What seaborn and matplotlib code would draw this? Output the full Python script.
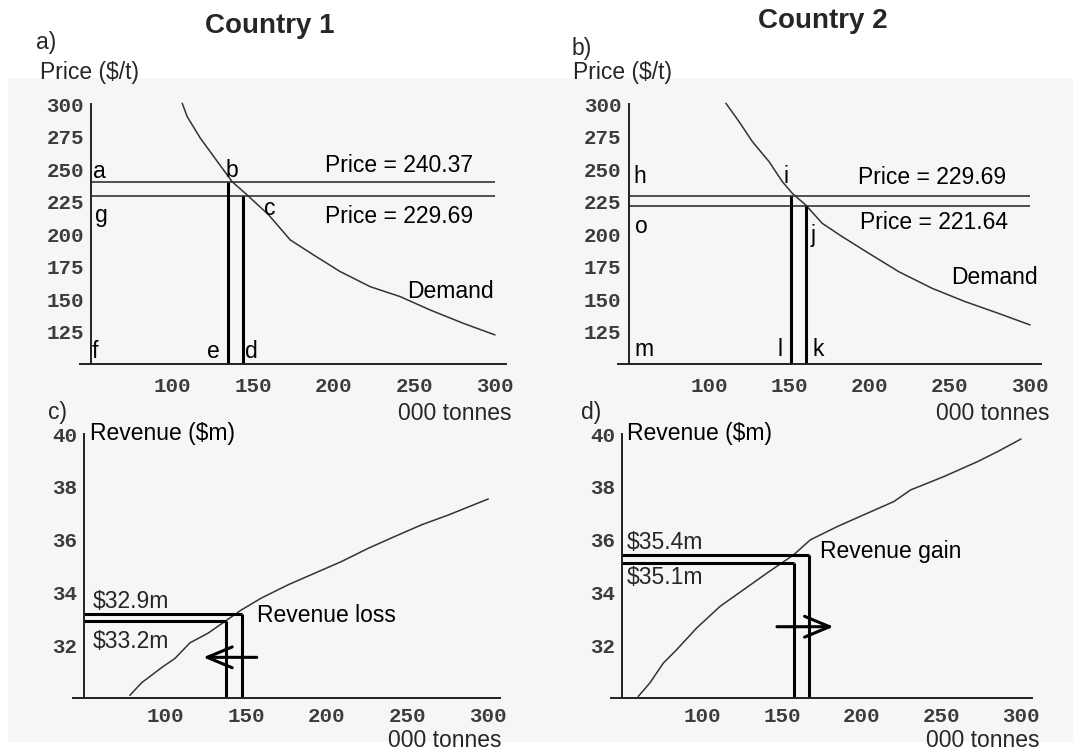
import matplotlib
matplotlib.use("Agg")
import matplotlib.pyplot as plt
from matplotlib.patches import Rectangle
from matplotlib.ticker import MultipleLocator
from matplotlib.font_manager import FontProperties
import seaborn as sns

# ---------------- data ----------------
# Demand curves: quantity (000 tonnes) and price ($/t)
demand1_qty = [106.2, 109.3, 117.5, 125.8, 137.1, 146.4, 159.8, 173.2, 187.6,
               204.1, 222.7, 241.2, 259.8, 280.4, 300.0]
demand1_price = [300.8, 290.5, 273.8, 259.7, 240.5, 230.3, 214.9, 195.6, 184.1,
                 171.3, 159.7, 152.1, 141.8, 131.5, 122.6]
demand2_qty = [110.4, 118.6, 126.9, 137.3, 145.6, 151.8, 160.1, 170.4, 182.9,
               199.5, 218.1, 238.9, 259.6, 280.3, 300.0]
demand2_price = [300.8, 286.7, 271.3, 255.9, 240.5, 231.5, 222.6, 208.5, 198.2,
                 185.4, 171.3, 158.5, 148.2, 139.2, 130.3]

# Revenue curves: quantity (000 tonnes) and revenue ($m)
revenue1_qty = [78.2, 85.5, 97.8, 106.1, 115.4, 126.7, 137.0, 147.3, 159.7,
                176.2, 192.7, 209.2, 225.7, 242.2, 258.7, 275.2, 300.0]
revenue1_val = [30.1, 30.58, 31.15, 31.5, 32.09, 32.46, 32.9, 33.34, 33.79,
                34.29, 34.73, 35.17, 35.67, 36.12, 36.56, 36.93, 37.54]
revenue2_qty = [59.9, 67.2, 75.6, 84.0, 96.5, 111.2, 125.9, 140.6, 157.3,
                167.8, 184.6, 201.4, 220.2, 230.7, 251.7, 272.6, 285.2, 300.0]
revenue2_val = [30.06, 30.57, 31.32, 31.83, 32.65, 33.47, 34.1, 34.73, 35.42,
                35.99, 36.49, 36.94, 37.44, 37.88, 38.39, 38.95, 39.33, 39.81]

# Price levels (upper, lower) and the quantities sold at each
prices1 = [240.37, 229.69]
quantities1 = [134.4, 143.7]
prices2 = [229.69, 221.64]
quantities2 = [150.8, 160.1]

# Revenue levels (upper, lower) and matching quantities
revenues1 = [33.2, 32.9]
rev_quantities1 = [147.7, 137.4]
revenues2 = [35.4, 35.1]
rev_quantities2 = [167.2, 157.3]

# Direction-of-change arrows: (start quantity, end quantity, height)
arrow1 = (156.7, 123.6, 31.54)
arrow2 = (146.9, 182.4, 32.7)

price_ticks = [125, 150, 175, 200, 225, 250, 275, 300]
qty_ticks = [100, 150, 200, 250, 300]
revenue_ticks = [32, 34, 36, 38, 40]

# ---------------- style ----------------
sns.set_style("white")
plt.rcParams["font.family"] = ["Liberation Sans", "DejaVu Sans"]

W, H = 1073, 752
fig = plt.figure(figsize=(W / 100, H / 100), dpi=100)
fig.patch.set_facecolor("white")
fig.add_artist(Rectangle((8 / W, 1 - 742 / H), 1065 / W, 664 / H,
                         transform=fig.transFigure, facecolor="#f6f6f6",
                         edgecolor="none", zorder=0))

AX_COL = "#222222"
CURVE_COL = "#333333"
TICK_FONT = FontProperties(family="Liberation Mono", weight="bold", size=15)
LABEL_SIZE = 16.5
ARROW = "->,head_length=1.8,head_width=0.75"


def box(left, top, right, bottom):
    return [left / W, 1 - bottom / H, (right - left) / W, (bottom - top) / H]


def ftext(px, py, s, **kw):
    fig.text(px / W, 1 - py / H, s, **kw)


def setup_axes(rect, ylim, yticks, xpad, y_minor=None, x_minor=None):
    ax = fig.add_axes(rect)
    ax.set_facecolor("none")
    ax.set_xlim(43, 307)
    ax.set_ylim(*ylim)
    for s in ("top", "right"):
        ax.spines[s].set_visible(False)
    ax.spines["left"].set_position(("data", 50))
    ax.spines["left"].set_bounds(*ylim)
    ax.spines["bottom"].set_position(("data", ylim[0]))
    for s in ("left", "bottom"):
        ax.spines[s].set_color(AX_COL)
        ax.spines[s].set_linewidth(1.4)
    ax.set_xticks(qty_ticks)
    ax.set_yticks(yticks)
    if y_minor:
        ax.yaxis.set_minor_locator(MultipleLocator(y_minor))
    if x_minor:
        ax.xaxis.set_minor_locator(MultipleLocator(x_minor))
    ax.tick_params(which="major", direction="in", length=5, width=1.0,
                   color=AX_COL, labelcolor="#3c3c3c")
    ax.tick_params(which="minor", direction="in", length=3, width=0.9,
                   color=AX_COL)
    ax.tick_params(axis="x", pad=xpad)
    ax.tick_params(axis="y", pad=5.4)
    ax.set_xlabel("")
    ax.set_ylabel("")
    for lab in ax.get_xticklabels() + ax.get_yticklabels():
        lab.set_fontproperties(TICK_FONT)
    return ax


def curve(ax, x, y):
    sns.lineplot(x=x, y=y, ax=ax, color=CURVE_COL, linewidth=1.1,
                 sort=False, estimator=None)
    ax.lines[-1].set_clip_on(False)


def label(ax, x, y, s, **kw):
    ax.text(x, y, s, fontsize=LABEL_SIZE, color="black", va="baseline", **kw)


# ---------------- panel a: Country 1 demand ----------------
ax_a = setup_axes(box(80.2, 104.3, 506.3, 364.3), (100, 300), price_ticks, 9.4)
curve(ax_a, demand1_qty, demand1_price)
ax_a.hlines(prices1, 50, 300, color="#333333", linewidth=1.2)
ax_a.vlines(quantities1, 100, prices1, color="black", linewidth=2.2)
for x, y, s in [(50.9, 243.3, "a"), (133.0, 244.1, "b"), (156.9, 214.8, "c"),
                (52.2, 209.5, "g"), (50.3, 104.8, "f"), (121.6, 104.8, "e"),
                (144.8, 104.8, "d"), (245.5, 151.0, "Demand")]:
    label(ax_a, x, y, s)
label(ax_a, 194.5, 247.9, f"Price = {prices1[0]:.2f}")
label(ax_a, 194.5, 208.7, f"Price = {prices1[1]:.2f}")

# ---------------- panel b: Country 2 demand ----------------
ax_b = setup_axes(box(617.8, 104.3, 1041.2, 364.3), (100, 300), price_ticks, 9.4,
                  y_minor=5)
curve(ax_b, demand2_qty, demand2_price)
ax_b.hlines(prices2, 50, 300, color="#333333", linewidth=1.2)
ax_b.vlines(quantities2, 100, prices2, color="black", linewidth=2.2)
for x, y, s in [(52.5, 239.5, "h"), (146.6, 239.5, "i"), (53.5, 201.0, "o"),
                (163.5, 194.1, "j"), (53.5, 106.4, "m"), (142.6, 106.4, "l"),
                (164.5, 106.4, "k"), (250.6, 161.8, "Demand")]:
    label(ax_b, x, y, s)
label(ax_b, 192.6, 238.7, f"Price = {prices2[0]:.2f}")
label(ax_b, 194.0, 204.1, f"Price = {prices2[1]:.2f}")

# ---------------- panel c: Country 1 revenue ----------------
ax_c = setup_axes(box(73.0, 434, 499.6, 698), (30, 40), revenue_ticks, 6.3,
                  x_minor=10)
curve(ax_c, revenue1_qty, revenue1_val)
ax_c.hlines(revenues1, 50, rev_quantities1, color="black", linewidth=2.2)
ax_c.vlines(rev_quantities1, 30, revenues1, color="black", linewidth=2.2)
ax_c.annotate(f"${revenues1[1]}m", xy=(50, revenues1[0]), xytext=(6, 4.3),
              textcoords="offset points", fontsize=LABEL_SIZE, va="baseline")
ax_c.annotate(f"${revenues1[0]}m", xy=(50, revenues1[1]), xytext=(6, -19),
              textcoords="offset points", fontsize=LABEL_SIZE, va="baseline")
label(ax_c, 156.7, 32.89, "Revenue loss")
label(ax_c, 53.5, 39.77, "Revenue ($m)")
ax_c.annotate("", xy=(arrow1[1], arrow1[2]), xytext=(arrow1[0], arrow1[2]),
              arrowprops=dict(arrowstyle=ARROW, color="black", lw=2.2,
                              shrinkA=0, shrinkB=0))

# ---------------- panel d: Country 2 revenue ----------------
ax_d = setup_axes(box(611.3, 434, 1032.2, 698), (30, 40), revenue_ticks, 6.3,
                  y_minor=0.5, x_minor=10)
curve(ax_d, revenue2_qty, revenue2_val)
ax_d.hlines(revenues2, 50, rev_quantities2, color="black", linewidth=2.2)
ax_d.vlines(rev_quantities2, 30, revenues2, color="black", linewidth=2.2)
ax_d.annotate(f"${revenues2[0]}m", xy=(50, revenues2[0]), xytext=(3, 4.3),
              textcoords="offset points", fontsize=LABEL_SIZE, va="baseline")
ax_d.annotate(f"${revenues2[1]}m", xy=(50, revenues2[1]), xytext=(3, -15),
              textcoords="offset points", fontsize=LABEL_SIZE, va="baseline")
label(ax_d, 173.9, 35.31, "Revenue gain")
label(ax_d, 53.0, 39.77, "Revenue ($m)")
ax_d.annotate("", xy=(arrow2[1], arrow2[2]), xytext=(arrow2[0], arrow2[2]),
              arrowprops=dict(arrowstyle=ARROW, color="black", lw=2.2,
                              shrinkA=0, shrinkB=0))

# ---------------- titles and axis captions ----------------
ftext(270, 33, "Country 1", ha="center", va="baseline", fontsize=20,
      fontweight="bold")
ftext(823, 28, "Country 2", ha="center", va="baseline", fontsize=20,
      fontweight="bold")
ftext(36, 49, "a)", va="baseline", fontsize=LABEL_SIZE)
ftext(571.6, 55, "b)", va="baseline", fontsize=LABEL_SIZE)
ftext(39.6, 79, "Price ($/t)", va="baseline", fontsize=LABEL_SIZE)
ftext(572.6, 79, "Price ($/t)", va="baseline", fontsize=LABEL_SIZE)
ftext(48, 419, "c)", va="baseline", fontsize=LABEL_SIZE)
ftext(581, 419, "d)", va="baseline", fontsize=LABEL_SIZE)
ftext(512, 420, "000 tonnes", ha="right", va="baseline", fontsize=LABEL_SIZE)
ftext(1050, 420, "000 tonnes", ha="right", va="baseline", fontsize=LABEL_SIZE)
ftext(501, 747, "000 tonnes", ha="right", va="baseline", fontsize=LABEL_SIZE)
ftext(1039, 747, "000 tonnes", ha="right", va="baseline", fontsize=LABEL_SIZE)

fig.savefig("out.png", dpi=100)
